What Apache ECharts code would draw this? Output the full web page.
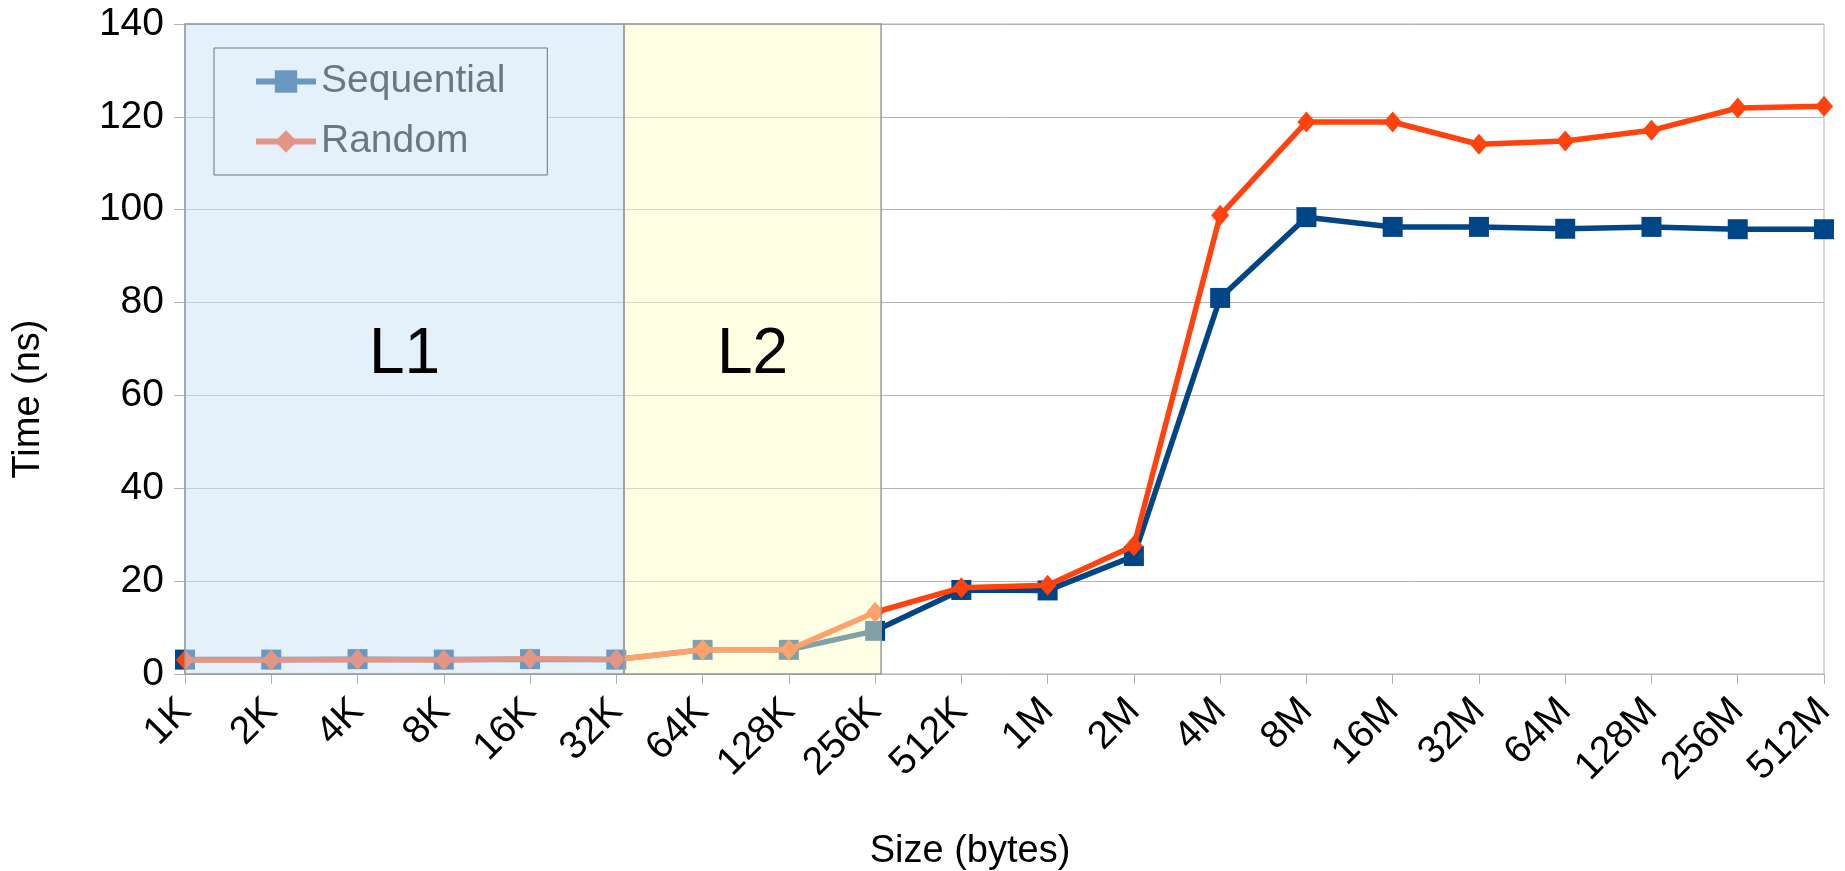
<!DOCTYPE html>
<html>
<head>
<meta charset="utf-8">
<script src="https://cdn.jsdelivr.net/npm/echarts@6/dist/echarts.min.js"></script>
<style>
html,body{margin:0;padding:0;background:#fff;}
#chart{width:1845px;height:871px;}
</style>
</head>
<body>
<div id="chart"></div>
<script>
const categories = ['1K','2K','4K','8K','16K','32K','64K','128K','256K','512K','1M','2M','4M','8M','16M','32M','64M','128M','256M','512M'];
const sequential = [3.1, 3.1, 3.2, 3.1, 3.2, 3.1, 5.2, 5.2, 9.3, 18.1, 18.0, 25.4, 81.0, 98.4, 96.3, 96.3, 95.9, 96.3, 95.8, 95.8];
const random = [3.0, 3.0, 3.1, 3.0, 3.3, 3.1, 5.2, 5.2, 13.3, 18.6, 19.1, 27.6, 98.8, 118.9, 118.9, 114.1, 114.8, 117.1, 121.9, 122.3];
const yTicks = [0, 20, 40, 60, 80, 100, 120, 140];
const cacheRegions = [
  {name: 'L1', from: 0, to: 5.09},
  {name: 'L2', from: 5.09, to: 8.07}
];

const FONT = 'Liberation Sans';
const FS = 39;
const regionFill = {L1: 'rgba(203,228,245,0.52)', L2: 'rgba(255,255,199,0.5)'};

const chart = echarts.init(document.getElementById('chart'));
chart.setOption({
  animation: false,
  backgroundColor: '#fff',
  textStyle: {fontFamily: FONT},
  grid: {left: 185, right: 21, top: 24, bottom: 197, show: true, borderColor: '#b3b3b3', borderWidth: 1,
         backgroundColor: 'transparent', containLabel: false, outerBoundsMode: 'none'},
  legend: {
    left: 214, top: 48, orient: 'vertical',
    padding: [14, 42, 14, 39],
    itemWidth: 60, itemHeight: 28, itemGap: 21,
    borderColor: '#000', borderWidth: 1, backgroundColor: '#fff',
    textStyle: {color: '#000', fontSize: FS, fontFamily: FONT},
    lineStyle: {width: 6},
    data: ['Sequential', 'Random']
  },
  xAxis: [{
    type: 'category', data: categories, boundaryGap: false,
    name: 'Size (bytes)', nameLocation: 'middle', nameGap: 159,
    nameTextStyle: {fontSize: 38, color: '#000', fontFamily: FONT, verticalAlign: 'top', padding: [0, 69, 0, 0]},
    axisLine: {lineStyle: {color: '#b3b3b3', width: 1}},
    axisTick: {show: true, length: 10, lineStyle: {color: '#b3b3b3'}},
    axisLabel: {rotate: 45, margin: 31, fontSize: FS, color: '#000', fontFamily: FONT, interval: 0},
    splitLine: {show: false}
  }, {
    type: 'value', min: 0, max: categories.length - 1, show: false
  }],
  yAxis: {
    type: 'value', min: yTicks[0], max: yTicks[yTicks.length - 1], interval: yTicks[1] - yTicks[0],
    name: 'Time (ns)', nameLocation: 'middle', nameGap: 137, nameRotate: 90,
    nameTextStyle: {fontSize: 38, color: '#000', fontFamily: FONT, padding: [0, 100, 0, 0]},
    axisLine: {show: true, lineStyle: {color: '#b3b3b3', width: 1}},
    axisTick: {show: true, length: 11, lineStyle: {color: '#b3b3b3'}},
    axisLabel: {margin: 21, fontSize: FS, color: '#000', fontFamily: FONT},
    splitLine: {show: true, lineStyle: {color: '#b3b3b3', width: 1}}
  },
  series: [
    {
      name: 'Sequential', type: 'line', data: sequential, z: 2,
      symbol: 'rect', symbolSize: 20,
      lineStyle: {color: '#004586', width: 5.5},
      itemStyle: {color: '#004586'}
    },
    {
      name: 'Random', type: 'line', data: random, z: 3,
      symbol: 'diamond', symbolSize: [18, 21],
      lineStyle: {color: '#ff420e', width: 5.5},
      itemStyle: {color: '#ff420e'}
    },
    {
      name: 'regions', type: 'line', xAxisIndex: 1, data: [], z: 10,
      markArea: {
        z: 10, silent: true,
        label: {show: true, position: 'inside', offset: [0, 6], fontSize: 64, color: '#000', fontFamily: FONT},
        data: cacheRegions.map(r => [
          {name: r.name, xAxis: r.from, yAxis: yTicks[0],
           itemStyle: {color: regionFill[r.name], borderColor: '#999', borderWidth: 1.5}},
          {xAxis: r.to, yAxis: yTicks[yTicks.length - 1]}
        ])
      }
    }
  ]
});
</script>
</body>
</html>
